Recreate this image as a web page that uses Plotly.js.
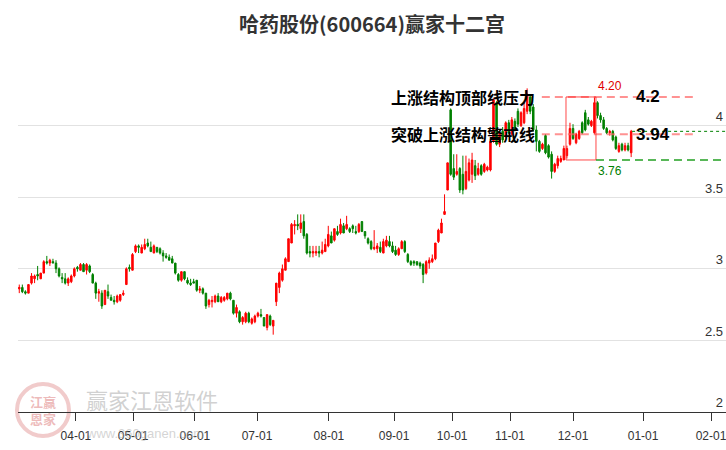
<!DOCTYPE html>
<html><head><meta charset="utf-8">
<script src="https://cdn.plot.ly/plotly-3.0.1.min.js"></script>
<style>html,body{margin:0;padding:0;background:#fff}#chart{width:726px;height:450px}</style>
</head><body><div id="chart"></div>
<script>
// daily candles (trading-day index 0..200)
const openP = [2.86,2.87,2.84,2.83,2.90,2.93,2.96,2.93,2.97,3.05,3.04,3.05,3.04,3.00,2.94,2.93,2.90,2.91,2.95,3.01,
2.99,3.03,2.99,3.02,2.96,2.90,2.83,2.83,2.75,2.84,2.80,2.78,2.77,2.78,2.82,2.89,3.01,2.99,3.12,3.16,
3.11,3.14,3.18,3.15,3.11,3.15,3.14,3.11,3.09,3.08,3.07,3.04,2.96,2.92,2.98,2.92,2.90,2.91,2.92,2.85,
2.86,2.83,2.75,2.77,2.77,2.81,2.77,2.78,2.79,2.83,2.78,2.69,2.70,2.63,2.63,2.69,2.62,2.63,2.67,2.68,
2.66,2.59,2.67,2.60,2.77,2.87,2.92,2.99,3.05,3.18,3.30,3.31,3.28,3.33,3.24,3.12,3.11,3.11,3.12,3.11,
3.12,3.16,3.23,3.20,3.26,3.25,3.30,3.28,3.28,3.30,3.26,3.26,3.33,3.26,3.21,3.19,3.14,3.14,3.15,3.11,
3.16,3.19,3.16,3.13,3.10,3.14,3.19,3.10,3.05,3.05,3.05,3.04,3.03,2.97,3.04,3.05,3.07,3.19,3.25,3.38,
3.55,4.11,3.70,3.66,3.70,3.66,3.56,3.62,3.66,3.72,3.66,3.72,3.68,3.69,3.69,3.89,4.16,3.87,3.96,3.93,
4.02,3.94,4.03,4.10,4.00,4.02,4.10,4.20,4.13,3.97,3.89,3.84,3.93,3.86,3.80,3.68,3.72,3.75,3.76,3.79,
3.87,3.98,3.88,3.91,4.02,4.09,4.04,4.00,3.95,4.16,4.07,4.04,3.98,3.95,3.96,3.92,3.82,3.87,3.83,3.86,
3.81];
const highP = [2.89,2.89,2.85,2.89,2.97,2.96,3.02,2.97,3.06,3.09,3.07,3.07,3.06,3.01,2.97,2.97,2.94,2.96,3.01,3.02,
3.04,3.04,3.04,3.03,2.97,2.91,2.86,2.85,2.85,2.89,2.82,2.81,2.82,2.82,2.85,3.01,3.03,3.11,3.17,3.17,
3.17,3.21,3.21,3.19,3.17,3.15,3.15,3.13,3.11,3.10,3.09,3.04,2.97,2.98,2.98,2.94,2.93,2.93,2.92,2.88,
2.87,2.83,2.79,2.81,2.82,2.83,2.81,2.81,2.83,2.84,2.78,2.75,2.71,2.67,2.70,2.70,2.66,2.68,2.70,2.72,
2.66,2.68,2.68,2.64,2.90,2.98,3.03,3.08,3.21,3.32,3.34,3.38,3.38,3.38,3.25,3.16,3.16,3.16,3.16,3.19,
3.21,3.30,3.26,3.28,3.30,3.35,3.32,3.37,3.29,3.31,3.30,3.32,3.33,3.26,3.22,3.20,3.27,3.18,3.19,3.21,
3.23,3.23,3.19,3.16,3.15,3.20,3.20,3.11,3.06,3.06,3.05,3.05,3.04,3.06,3.08,3.10,3.18,3.28,3.35,3.52,
3.74,4.12,3.80,3.80,3.71,3.79,3.79,3.77,3.81,3.76,3.74,3.73,3.74,3.72,3.90,4.19,4.17,3.97,3.99,4.03,
4.04,4.06,4.05,4.12,4.10,4.16,4.26,4.22,4.15,4.00,3.90,3.88,3.94,3.87,3.82,3.74,3.79,3.79,3.86,3.86,
4.02,4.01,3.95,3.97,4.03,4.11,4.06,4.04,4.20,4.17,4.09,4.06,3.99,3.97,3.97,3.93,3.88,3.88,3.88,3.88,
3.97];
const lowP = [2.83,2.83,2.82,2.83,2.89,2.90,2.92,2.93,2.97,3.03,3.02,3.04,2.97,2.94,2.90,2.89,2.88,2.90,2.94,2.98,
2.99,2.98,2.96,2.97,2.90,2.79,2.77,2.72,2.75,2.79,2.78,2.75,2.76,2.77,2.81,2.89,2.98,2.99,3.11,3.11,
3.11,3.13,3.15,3.12,3.11,3.11,3.10,3.05,3.07,3.06,3.04,2.96,2.91,2.91,2.92,2.89,2.88,2.90,2.84,2.83,
2.82,2.72,2.73,2.73,2.76,2.77,2.76,2.77,2.78,2.78,2.68,2.66,2.62,2.61,2.62,2.62,2.61,2.62,2.66,2.66,
2.60,2.57,2.60,2.54,2.74,2.83,2.91,2.99,3.05,3.18,3.24,3.27,3.25,3.21,3.10,3.08,3.08,3.09,3.08,3.10,
3.12,3.15,3.18,3.19,3.23,3.24,3.25,3.27,3.25,3.25,3.24,3.25,3.26,3.21,3.17,3.13,3.13,3.11,3.11,3.11,
3.15,3.15,3.11,3.09,3.09,3.14,3.11,3.04,3.02,3.02,3.02,3.00,2.90,2.96,3.00,3.04,3.06,3.18,3.25,3.38,
3.55,3.65,3.62,3.65,3.53,3.52,3.55,3.61,3.60,3.62,3.65,3.65,3.67,3.68,3.68,3.88,3.86,3.85,3.88,3.91,
3.94,3.93,3.96,3.99,3.99,4.01,4.08,4.08,3.96,3.82,3.81,3.83,3.80,3.77,3.63,3.67,3.70,3.74,3.76,3.77,
3.86,3.90,3.87,3.90,3.94,3.96,4.00,3.99,3.94,4.05,4.02,3.97,3.94,3.93,3.89,3.83,3.81,3.82,3.82,3.82,
3.78];
const closeP = [2.87,2.84,2.83,2.89,2.95,2.95,2.95,2.97,3.05,3.04,3.06,3.04,3.00,2.95,2.93,2.90,2.93,2.95,3.00,3.00,
3.03,2.98,3.03,2.98,2.90,2.83,2.84,2.74,2.85,2.81,2.78,2.77,2.81,2.82,2.83,3.00,3.00,3.10,3.16,3.15,
3.15,3.17,3.16,3.12,3.16,3.12,3.11,3.09,3.08,3.06,3.04,2.97,2.92,2.98,2.93,2.90,2.89,2.90,2.85,2.86,
2.83,2.74,2.78,2.78,2.81,2.77,2.80,2.80,2.83,2.79,2.69,2.73,2.63,2.66,2.69,2.63,2.65,2.67,2.69,2.67,
2.60,2.68,2.61,2.64,2.90,2.97,3.00,3.07,3.21,3.31,3.31,3.30,3.32,3.23,3.11,3.11,3.12,3.12,3.11,3.13,
3.17,3.24,3.18,3.28,3.24,3.31,3.25,3.31,3.26,3.28,3.25,3.31,3.26,3.23,3.18,3.14,3.15,3.16,3.12,3.19,
3.20,3.16,3.12,3.10,3.14,3.19,3.12,3.05,3.03,3.04,3.03,3.02,2.96,3.05,3.06,3.07,3.18,3.27,3.32,3.40,
3.74,3.66,3.64,3.68,3.55,3.55,3.68,3.74,3.76,3.65,3.70,3.66,3.73,3.71,3.89,4.18,3.87,3.95,3.90,4.02,
3.95,4.04,3.97,4.01,4.09,4.12,4.22,4.10,3.97,3.89,3.82,3.87,3.81,3.78,3.68,3.73,3.77,3.77,3.84,3.84,
3.98,3.91,3.94,3.96,3.95,3.97,4.01,4.03,4.16,4.07,4.04,3.98,3.95,3.96,3.90,3.84,3.86,3.83,3.86,3.83,
3.96];

const tickLabels = ['04-01','05-01','06-01','07-01','08-01','09-01','10-01','11-01','12-01','01-01','02-01'];
const tickPos = [18.5, 37.2, 57.4, 77.7, 101.2, 122.5, 141.5, 160.4, 181.0, 203.9, 226.1];
const yTicks = [2, 2.5, 3, 3.5, 4, 4.5];
const yTickText = ['2', '2.5', '3', '3.5', '4', ''];

const topLevel = 4.2;      // 上涨结构顶部线压力
const warnLevel = 3.94;    // 突破上涨结构警戒线
const boxHigh = 4.20;
const boxLow = 3.76;
const boxFrom = 179, boxTo = 188;
const levelFrom = 171;

const idx = openP.map((_, i) => i);
const last = idx.length - 1;
const xMax = 231;

const trace = {
  type: 'candlestick', x: idx, open: openP, high: highP, low: lowP, close: closeP,
  increasing: {line: {color: '#ff0000', width: 1}, fillcolor: '#ff0000'},
  decreasing: {line: {color: '#008000', width: 1}, fillcolor: '#008000'},
  whiskerwidth: 0, hoverinfo: 'skip', showlegend: false
};

const shapes = [
  {type:'line', xref:'x', yref:'y', x0: levelFrom - 0.2, x1: 221.5, y0: topLevel, y1: topLevel,
   line:{color:'rgba(255,100,100,0.7)', width:2, dash:'8px,5px'}},
  {type:'line', xref:'x', yref:'y', x0: levelFrom - 0.2, x1: 221.5, y0: warnLevel, y1: warnLevel,
   line:{color:'rgba(255,100,100,0.7)', width:2, dash:'8px,5px'}},
  {type:'rect', xref:'x', yref:'y', x0: boxFrom - 0.3, x1: boxTo + 0.5, y0: boxLow, y1: boxHigh,
   line:{color:'rgba(255,40,40,0.85)', width:1}},
  {type:'line', xref:'x', yref:'y', x0: boxTo + 0.5, x1: xMax, y0: boxLow, y1: boxLow,
   line:{color:'#22a022', width:1.5, dash:'8px,5px'}},
  {type:'line', xref:'x', yref:'y', x0: last + 0.3, x1: xMax, y0: closeP[last], y1: closeP[last],
   line:{color:'#008000', width:1, dash:'dot'}},
  // watermark seal
  {type:'circle', xref:'paper', yref:'paper', xsizemode:'pixel', ysizemode:'pixel',
   xanchor: 25/708, yanchor: 2/358, x0:-26, x1:26, y0:-26, y1:26,
   line:{color:'rgba(225,140,140,0.45)', width:4}, fillcolor:'rgba(0,0,0,0)', layer:'below'}
];

const cjk = 'Noto Sans CJK SC, sans-serif';
const annotations = [
  {xref:'x', yref:'y', x: levelFrom - 0.2, y: topLevel, xanchor:'right', yanchor:'middle', xshift:-5,
   text:'上涨结构顶部线压力', showarrow:false, font:{family:cjk, size:16, color:'#000', weight:'bold'}},
  {xref:'x', yref:'y', x: levelFrom - 0.2, y: warnLevel, xanchor:'right', yanchor:'middle', xshift:-5,
   text:'突破上涨结构警戒线', showarrow:false, font:{family:cjk, size:16, color:'#000', weight:'bold'}},
  {xref:'x', yref:'y', x: last, y: topLevel, xanchor:'left', yanchor:'middle', xshift:3,
   text: String(topLevel), showarrow:false, font:{family:'Liberation Sans, Arial', size:17, color:'#000', weight:'bold'}},
  {xref:'x', yref:'y', x: last, y: warnLevel, xanchor:'left', yanchor:'middle', xshift:3,
   text: warnLevel.toFixed(2), showarrow:false, font:{family:'Liberation Sans, Arial', size:17, color:'#000', weight:'bold'}},
  {xref:'x', yref:'y', x: boxTo + 0.5, y: boxHigh, xanchor:'left', yanchor:'bottom', yshift:2,
   text: boxHigh.toFixed(2), showarrow:false, font:{family:'Liberation Sans, Arial', size:12, color:'#e00000'}},
  {xref:'x', yref:'y', x: boxTo + 0.5, y: boxLow, xanchor:'left', yanchor:'top', yshift:-2,
   text: boxLow.toFixed(2), showarrow:false, font:{family:'Liberation Sans, Arial', size:12, color:'#008000'}},
  // watermark
  {xref:'paper', yref:'paper', x: 134/708, y: 13/358, xanchor:'center', yanchor:'middle',
   text:'赢家江恩软件', showarrow:false, font:{family:cjk, size:22, color:'rgba(170,170,170,0.55)'}},
  {xref:'paper', yref:'paper', x: 127/708, y: -21/358, xanchor:'center', yanchor:'middle',
   text:'www.360ganen.com', showarrow:false, font:{family:'Liberation Sans, Arial', size:13, color:'rgba(170,170,170,0.5)'}},
  {xref:'paper', yref:'paper', x: 25/708, y: 2/358, xanchor:'center', yanchor:'middle',
   text:'江赢<br>恩家', showarrow:false, font:{family:cjk, size:13, color:'rgba(220,120,120,0.5)', weight:'bold'}}
];

const layout = {
  width: 726, height: 450,
  margin: {l: 18, r: 0, t: 54, b: 38},
  paper_bgcolor: '#fff', plot_bgcolor: '#fff',
  title: {text:'哈药股份(600664)赢家十二宫', xref:'paper', x:0.5, xanchor:'center',
          yref:'container', y: 1 - 25/450, yanchor:'middle',
          font:{family:cjk, size:20, color:'#333', weight:'bold'}},
  xaxis: {range:[-0.42, xMax], tickmode:'array', tickvals: tickPos, ticktext: tickLabels,
          ticks:'outside', ticklen:8, tickcolor:'#333', tickwidth:1,
          showline:true, linecolor:'#333', linewidth:1, showgrid:false, zeroline:false,
          rangeslider:{visible:false}, ticklabelstandoff: 5, ticklabeloverflow:'allow',
          tickfont:{family:'Liberation Sans Narrow, Arial Narrow, Liberation Sans, Arial', size:12, color:'#333'}},
  yaxis: {range:[2, 4.5], side:'right', tickmode:'array', tickvals: yTicks, ticktext: yTickText,
          ticklabelposition:'inside top', ticks:'', showgrid:true, gridcolor:'#e2e2e2', gridwidth:1,
          zeroline:false, showline:false, ticklabeloverflow:'allow',
          tickfont:{family:'Liberation Sans, Arial', size:13, color:'#333'}},
  shapes: shapes,
  annotations: annotations,
  showlegend: false
};

Plotly.newPlot('chart', [trace], layout, {staticPlot:true, displayModeBar:false});
</script>
</body></html>
